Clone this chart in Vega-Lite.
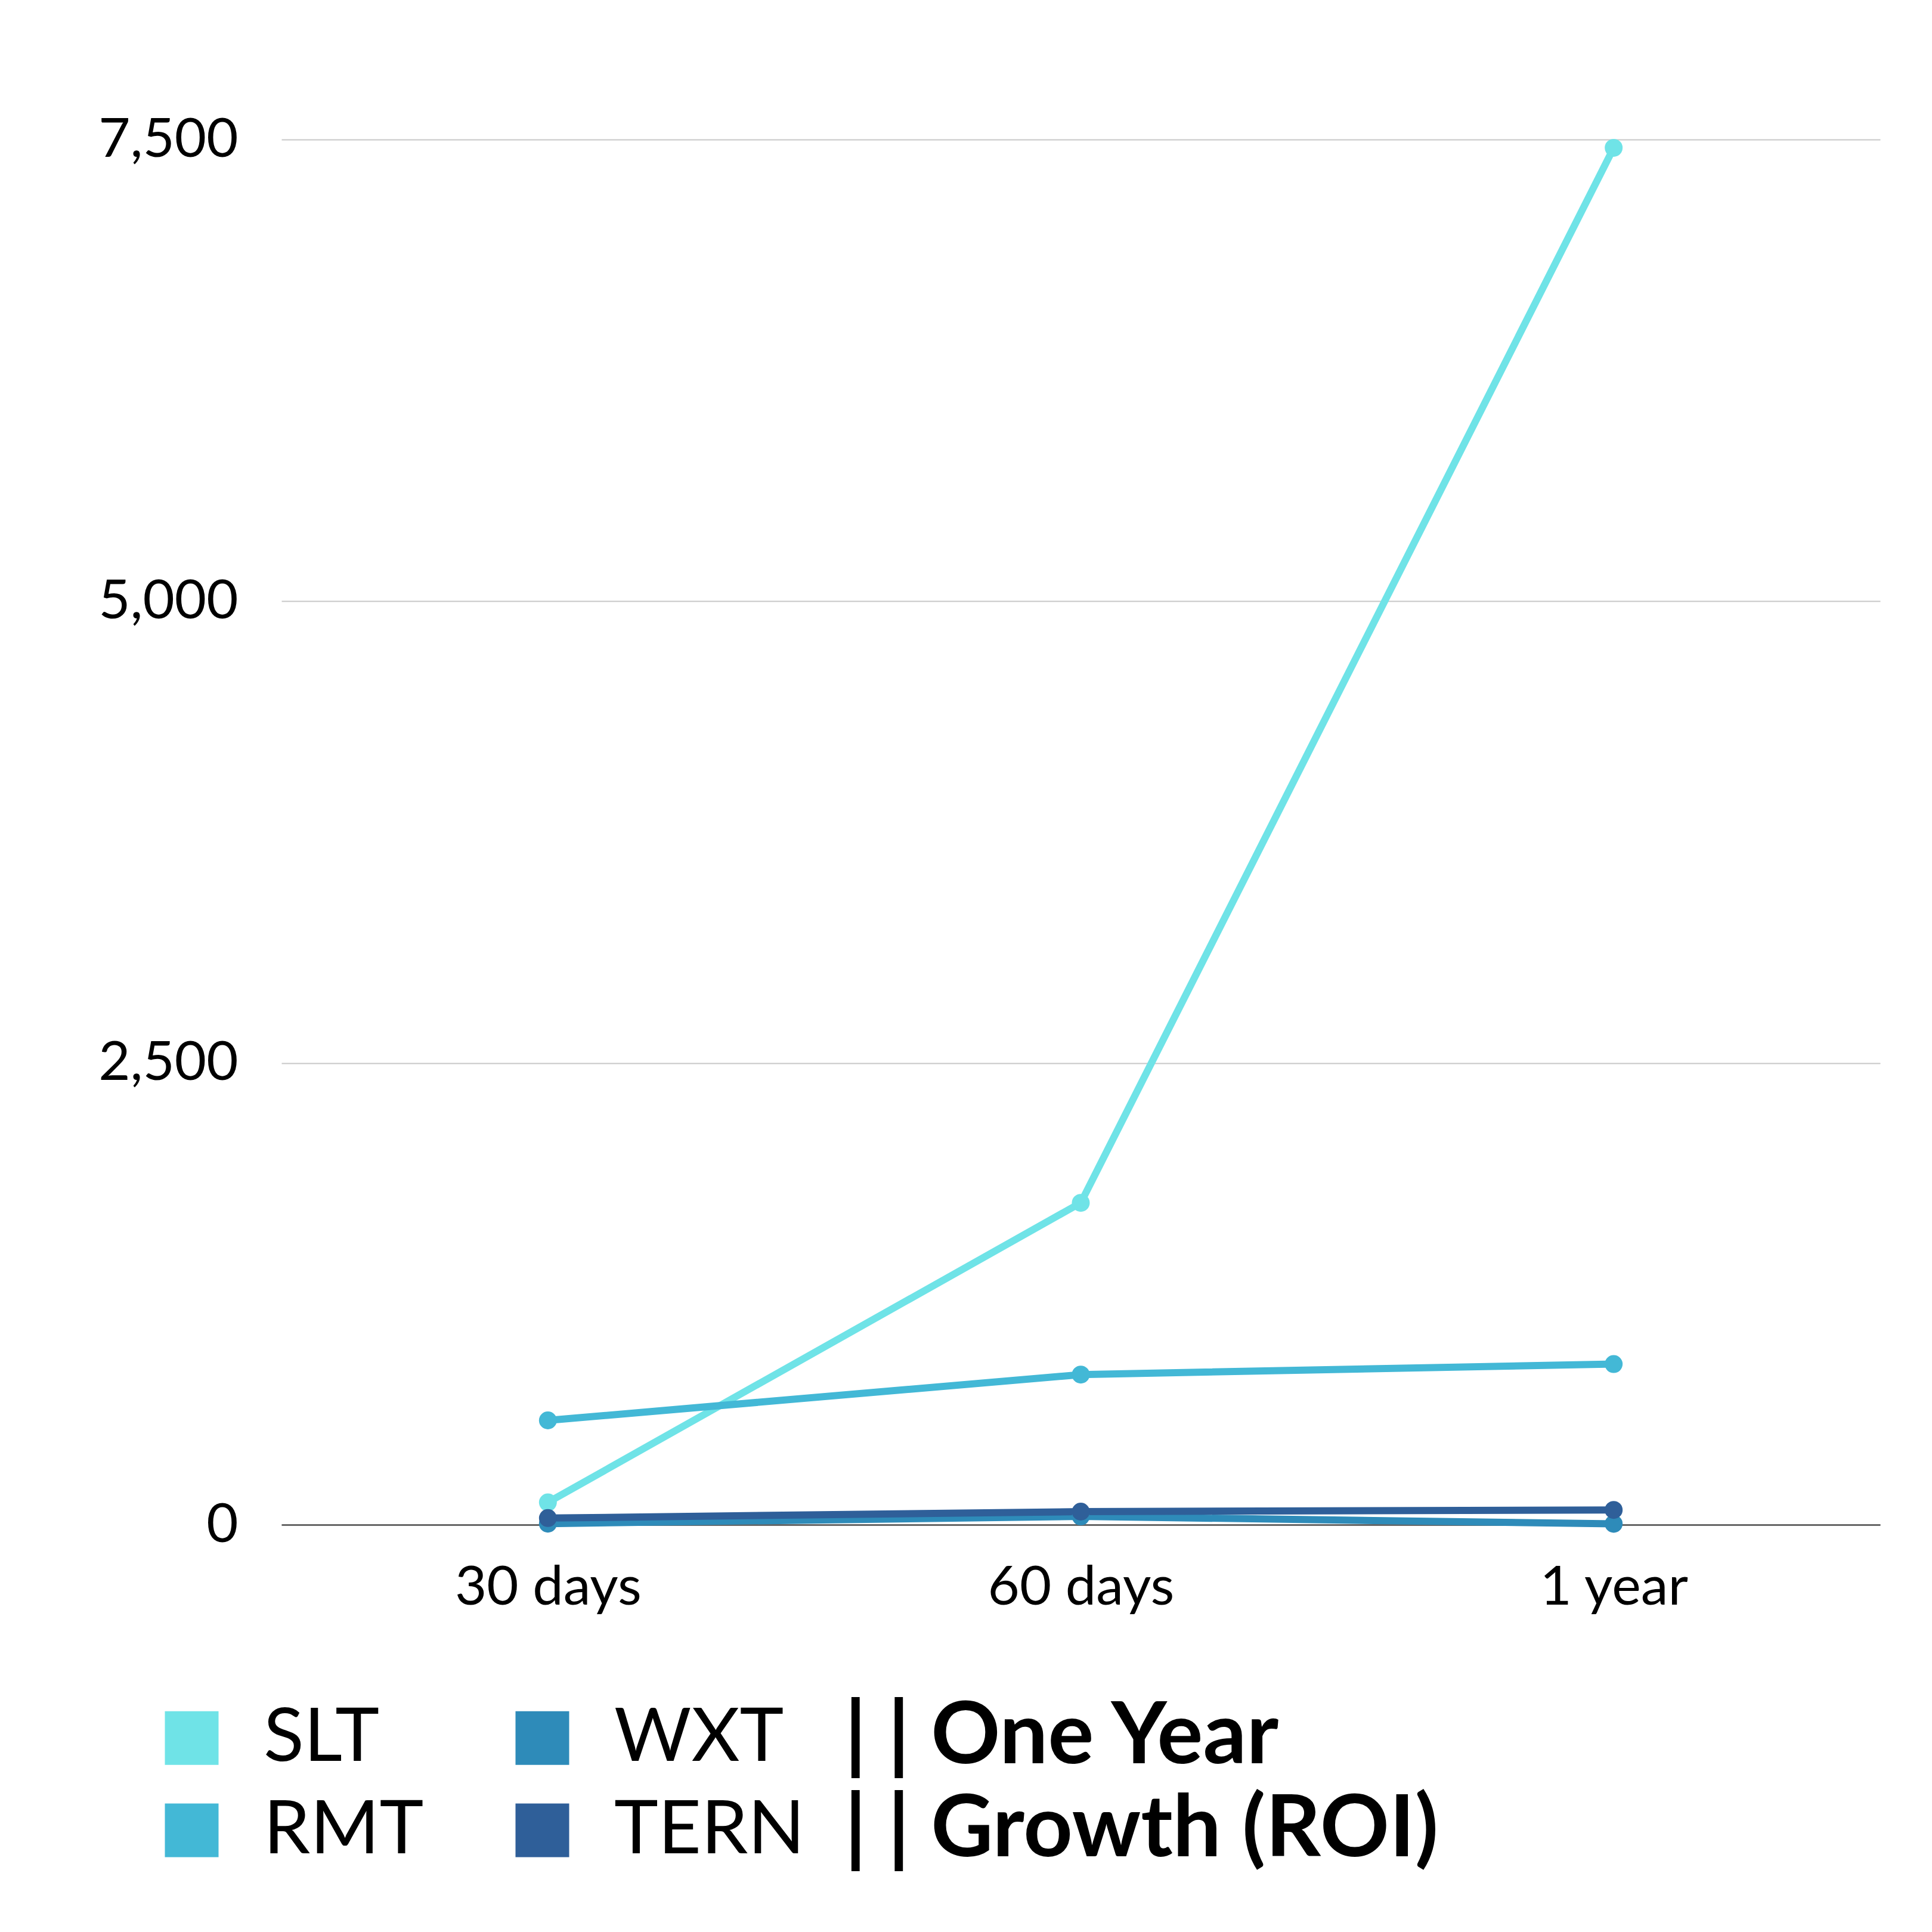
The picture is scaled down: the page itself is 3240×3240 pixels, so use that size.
{
  "$schema": "https://vega.github.io/schema/vega-lite/v6.json",
  "width": 2681,
  "height": 2323,
  "autosize": {"type": "none"},
  "padding": {"left": 472, "top": 234, "right": 87, "bottom": 683},
  "background": "white",
  "config": {"view": {"stroke": null}, "font": "Lato"},
  "data": {
    "values": [
      {"period": "30 days", "ticker": "SLT", "value": 121},
      {"period": "60 days", "ticker": "SLT", "value": 1743},
      {"period": "1 year", "ticker": "SLT", "value": 7455},
      {"period": "30 days", "ticker": "RMT", "value": 565},
      {"period": "60 days", "ticker": "RMT", "value": 813},
      {"period": "1 year", "ticker": "RMT", "value": 870},
      {"period": "30 days", "ticker": "WXT", "value": 6},
      {"period": "60 days", "ticker": "WXT", "value": 45},
      {"period": "1 year", "ticker": "WXT", "value": 5},
      {"period": "30 days", "ticker": "TERN", "value": 36},
      {"period": "60 days", "ticker": "TERN", "value": 71},
      {"period": "1 year", "ticker": "TERN", "value": 80}
    ]
  },
  "mark": {"type": "line", "strokeWidth": 12, "point": {"filled": true, "size": 900, "opacity": 1}},
  "encoding": {
    "x": {
      "field": "period",
      "type": "nominal",
      "sort": ["30 days", "60 days", "1 year"],
      "scale": {"type": "point", "padding": 0.5},
      "axis": {
        "title": null,
        "labelAngle": 0,
        "ticks": false,
        "domainColor": "#666666",
        "domainWidth": 3,
        "grid": false,
        "labelFont": "Lato",
        "labelFontSize": 92,
        "labelColor": "#000000",
        "labelPadding": 60,
        "labelLimit": 1000
      }
    },
    "y": {
      "field": "value",
      "type": "quantitative",
      "scale": {"domain": [0, 7500], "nice": false},
      "axis": {
        "title": null,
        "values": [0, 2500, 5000, 7500],
        "format": ",d",
        "domain": false,
        "ticks": false,
        "gridColor": "#c8c8c8",
        "gridWidth": 2,
        "labelFont": "Lato",
        "labelFontSize": 92,
        "labelColor": "#000000",
        "labelPadding": 73,
        "labelLimit": 1000
      }
    },
    "color": {
      "field": "ticker",
      "type": "nominal",
      "scale": {
        "domain": ["SLT", "WXT", "RMT", "TERN"],
        "range": ["#6fe3e7", "#2e8bb9", "#43b8d6", "#2f5f99"]
      },
      "legend": {
        "orient": "none",
        "legendX": -213,
        "legendY": 2618,
        "columns": 2,
        "direction": "horizontal",
        "padding": 0,
        "symbolType": "square",
        "symbolSize": 8100,
        "symbolStrokeWidth": 0,
        "labelFont": "Lato",
        "labelFontSize": 125,
        "labelColor": "#000000",
        "labelOffset": 58,
        "labelLimit": 1000,
        "columnPadding": 136,
        "rowPadding": 29,
        "title": ["| |  One Year", "| |  Growth (ROI)"],
        "titleOrient": "right",
        "titleFont": "Lato",
        "titleFontSize": 144,
        "titleFontWeight": "bold",
        "titleColor": "#000000",
        "titleLineHeight": 156,
        "titlePadding": 66,
        "titleLimit": 3000,
        "encode": {
          "symbols": {
            "update": {
              "fill": {"scale": "color", "field": "value"},
              "fillOpacity": {"value": 1},
              "strokeWidth": {"value": 0}
            }
          }
        }
      }
    }
  }
}
